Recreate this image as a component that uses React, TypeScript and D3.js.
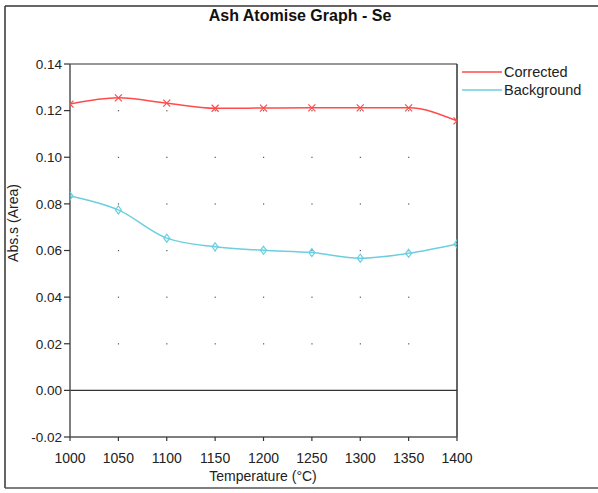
import React from "react";
import * as d3 from "d3";

const temperatures = [1000, 1050, 1100, 1150, 1200, 1250, 1300, 1350, 1400];
const corrected = [0.1228, 0.1255, 0.1232, 0.121, 0.1211, 0.1212, 0.1212, 0.1212, 0.1156];
const background = [0.0834, 0.0774, 0.0653, 0.0616, 0.0601, 0.0591, 0.0567, 0.0588, 0.0628];
const yTicks = [-0.02, 0, 0.02, 0.04, 0.06, 0.08, 0.1, 0.12, 0.14];
const xTicks = [1000, 1050, 1100, 1150, 1200, 1250, 1300, 1350, 1400];
const seriesNames = ["Corrected", "Background"];

const W = 598;
const H = 493;
const left = 70, right = 457, top = 64, bottom = 437;
const font = "'Liberation Sans', Arial, sans-serif";
const RED = "#ff4b4b";
const CYAN = "#6ccfe0";

export default function App() {
  const x = d3.scaleLinear().domain([1000, 1400]).range([left, right]);
  const y = d3.scaleLinear().domain([-0.02, 0.14]).range([bottom, top]);
  const line = d3
    .line<number>()
    .x((_, i) => x(temperatures[i]))
    .y((d) => y(d))
    .curve(d3.curveMonotoneX);

  const gridX = xTicks.slice(1, -1);
  const gridY = yTicks.filter((t) => t > 0.001 && t < 0.139);

  return (
    <svg
      width={W}
      height={H}
      style={{ position: "absolute", left: 0, top: 0, background: "#fff" }}
      fontFamily={font}
    >
      <defs>
        <clipPath id="plotclip">
          <rect x={left} y={top} width={right - left} height={bottom - top} />
        </clipPath>
      </defs>
      {/* outer frame */}
      <line x1={5} y1={6} x2={5} y2={488} stroke="#333" strokeWidth={1.5} />
      <line x1={5} y1={6} x2={W} y2={6} stroke="#333" strokeWidth={1.5} />
      <line x1={5} y1={488} x2={W} y2={488} stroke="#555" strokeWidth={1.5} />

      <text x={300} y={21} textAnchor="middle" fontSize={16} fontWeight="bold" fill="#111">
        Ash Atomise Graph - Se
      </text>

      {/* grid dots */}
      {gridX.map((gx) =>
        gridY.map((gy) => (
          <rect key={`${gx}-${gy}`} x={x(gx) - 0.5} y={y(gy) - 0.5} width={1.2} height={1.2} fill="#555" />
        ))
      )}

      {/* plot box */}
      <line x1={left} y1={top} x2={right} y2={top} stroke="#333" strokeWidth={1.2} />
      <line x1={right} y1={top} x2={right} y2={bottom} stroke="#333" strokeWidth={1.5} />
      <line x1={left} y1={y(0)} x2={right} y2={y(0)} stroke="#333" strokeWidth={1.2} />
      <line x1={left} y1={top} x2={left} y2={bottom} stroke="#555" strokeWidth={1.5} />
      <line x1={left} y1={bottom} x2={right} y2={bottom} stroke="#555" strokeWidth={1.5} />

      {/* y ticks */}
      {yTicks.map((t) => (
        <g key={t}>
          <line x1={left - 6} y1={y(t)} x2={left} y2={y(t)} stroke="#333" strokeWidth={1.2} />
          <text x={62} y={y(t)} dy="0.36em" textAnchor="end" fontSize={13.5} fill="#222">
            {t.toFixed(2)}
          </text>
        </g>
      ))}
      {/* x ticks */}
      {xTicks.map((t) => (
        <g key={t}>
          <line x1={x(t)} y1={bottom} x2={x(t)} y2={bottom + 4} stroke="#333" strokeWidth={1.2} />
          <text x={x(t)} y={bottom + 26} textAnchor="middle" fontSize={14} fill="#222">
            {t}
          </text>
        </g>
      ))}

      <text x={263} y={481} textAnchor="middle" fontSize={14} fill="#222">
        Temperature (°C)
      </text>
      <text
        transform={`translate(18,223) rotate(-90)`}
        textAnchor="middle"
        fontSize={14}
        fill="#222"
      >
        Abs.s (Area)
      </text>

      {/* series */}
      <g clipPath="url(#plotclip)">
        <path d={line(corrected) || ""} fill="none" stroke={RED} strokeWidth={1.5} />
        <path d={line(background) || ""} fill="none" stroke={CYAN} strokeWidth={1.5} />
        {corrected.map((v, i) => {
          const cx = x(temperatures[i]);
          const cy = y(v);
          const s = 3.5;
          return (
            <path
              key={`c${i}`}
              d={`M${cx - s},${cy - s}L${cx + s},${cy + s}M${cx - s},${cy + s}L${cx + s},${cy - s}`}
              stroke={RED}
              strokeWidth={1.2}
            />
          );
        })}
        {background.map((v, i) => {
          const cx = x(temperatures[i]);
          const cy = y(v);
          return (
            <path
              key={`b${i}`}
              d={`M${cx},${cy - 4}L${cx + 3},${cy}L${cx},${cy + 4}L${cx - 3},${cy}Z`}
              fill="none"
              stroke={CYAN}
              strokeWidth={1.2}
            />
          );
        })}
      </g>

      {/* legend */}
      {seriesNames.map((n, i) => (
        <g key={n}>
          <line x1={462} y1={72 + i * 18} x2={502} y2={72 + i * 18} stroke={i === 0 ? RED : CYAN} strokeWidth={1.5} />
          <text x={504} y={72 + i * 18} dy="0.36em" fontSize={14.5} fill="#222">
            {n}
          </text>
        </g>
      ))}
    </svg>
  );
}
